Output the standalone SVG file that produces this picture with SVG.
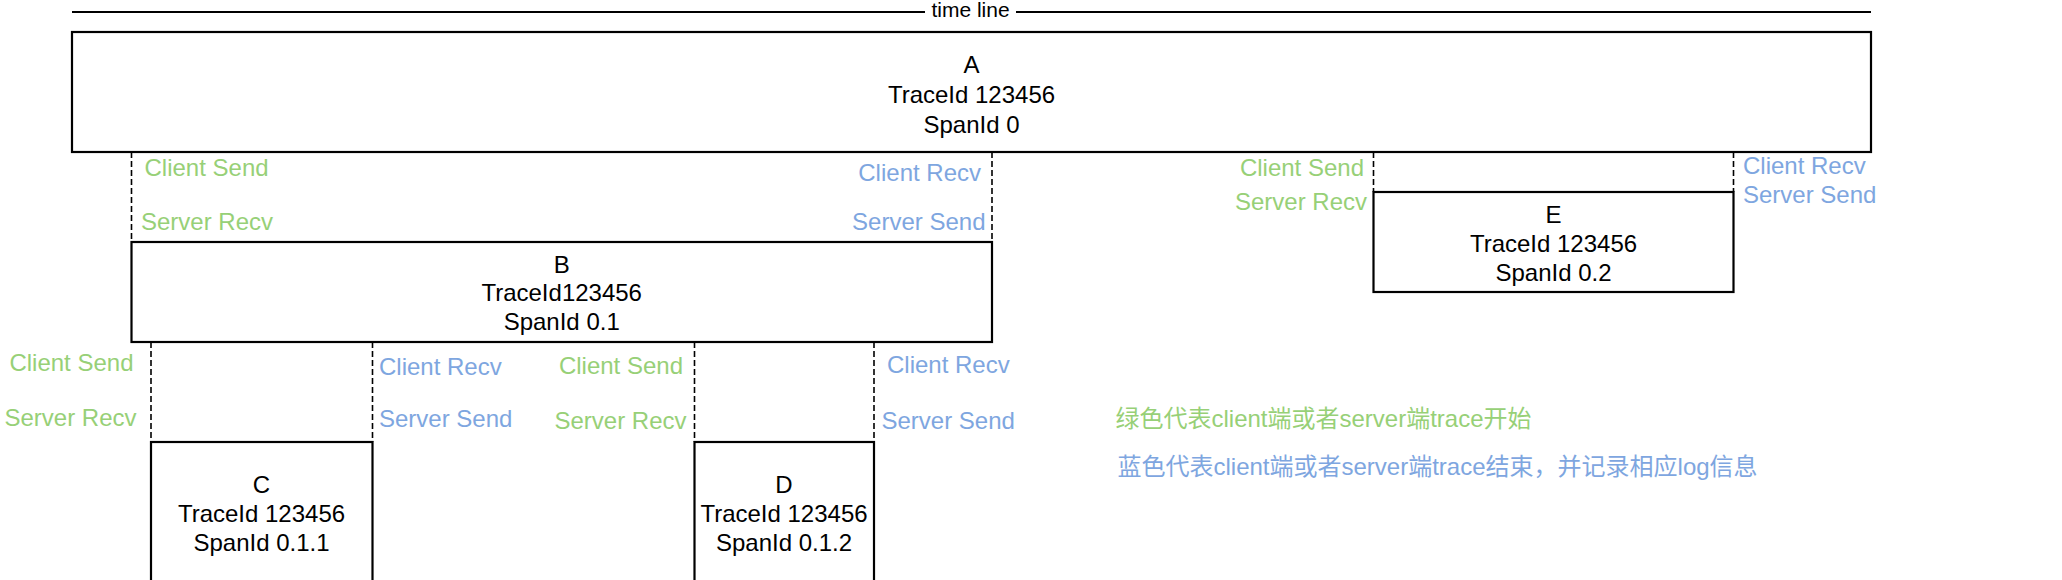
<svg xmlns="http://www.w3.org/2000/svg" width="2062" height="580" viewBox="0 0 2062 580">
<style>
.box{fill:#fff;stroke:#000;stroke-width:2.2}
.tl{stroke:#000;stroke-width:2.2;fill:none}
.dash{stroke:#000;stroke-width:1.6;stroke-dasharray:6 3;fill:none}
text{font-family:"Liberation Sans","Noto Sans CJK SC",sans-serif;font-size:24px}
.n{fill:#000;text-anchor:middle}
.g{fill:#97D077}
.b{fill:#7EA6E0}
.e{text-anchor:end}
</style>
<rect width="2062" height="580" fill="#fff"/>
<g id="timeline">
<line class="tl" x1="72" y1="12" x2="925" y2="12"/>
<line class="tl" x1="1016" y1="12" x2="1871" y2="12"/>
<text x="970.5" y="17" style="font-size:21px" text-anchor="middle" fill="#000">time line</text>
</g>
<g id="connectors">
<line class="dash" x1="131.5" y1="152" x2="131.5" y2="242"/>
<line class="dash" x1="992" y1="152" x2="992" y2="242"/>
<line class="dash" x1="1373.5" y1="152" x2="1373.5" y2="192"/>
<line class="dash" x1="1733.5" y1="152" x2="1733.5" y2="192"/>
<line class="dash" x1="151" y1="342" x2="151" y2="442"/>
<line class="dash" x1="372.5" y1="342" x2="372.5" y2="442"/>
<line class="dash" x1="694.5" y1="342" x2="694.5" y2="442"/>
<line class="dash" x1="874" y1="342" x2="874" y2="442"/>
</g>
<g id="nodeA">
<rect class="box" x="72" y="32" width="1799" height="120"/>
<text class="n" x="971.5" y="73">A</text>
<text class="n" x="971.5" y="102.5">TraceId 123456</text>
<text class="n" x="971.5" y="132.5">SpanId 0</text>
</g>
<g id="nodeB">
<rect class="box" x="131.5" y="242" width="860.5" height="100"/>
<text class="n" x="561.7" y="272.5">B</text>
<text class="n" x="561.7" y="301">TraceId123456</text>
<text class="n" x="561.7" y="330">SpanId 0.1</text>
</g>
<g id="nodeE">
<rect class="box" x="1373.5" y="192" width="360" height="100"/>
<text class="n" x="1553.5" y="223">E</text>
<text class="n" x="1553.5" y="252">TraceId 123456</text>
<text class="n" x="1553.5" y="281">SpanId 0.2</text>
</g>
<g id="nodeC">
<rect class="box" x="151" y="442" width="221.5" height="160"/>
<text class="n" x="261.5" y="493">C</text>
<text class="n" x="261.5" y="522">TraceId 123456</text>
<text class="n" x="261.5" y="551">SpanId 0.1.1</text>
</g>
<g id="nodeD">
<rect class="box" x="694.5" y="442" width="179.5" height="160"/>
<text class="n" x="784" y="493">D</text>
<text class="n" x="784" y="522">TraceId 123456</text>
<text class="n" x="784" y="551">SpanId 0.1.2</text>
</g>
<g id="labels">
<text class="g" x="144.5" y="176">Client Send</text>
<text class="g" x="141" y="229.5">Server Recv</text>
<text class="b e" x="981" y="181">Client Recv</text>
<text class="b e" x="985.5" y="230">Server Send</text>
<text class="g e" x="1364" y="176">Client Send</text>
<text class="g e" x="1367" y="209.5">Server Recv</text>
<text class="b" x="1743" y="173.5">Client Recv</text>
<text class="b" x="1743" y="202.5">Server Send</text>
<text class="g e" x="133.5" y="371">Client Send</text>
<text class="g e" x="136.5" y="426">Server Recv</text>
<text class="b" x="379" y="375">Client Recv</text>
<text class="b" x="379" y="427">Server Send</text>
<text class="g e" x="683" y="374">Client Send</text>
<text class="g e" x="686.5" y="428.5">Server Recv</text>
<text class="b" x="887" y="373">Client Recv</text>
<text class="b" x="881.5" y="429">Server Send</text>
<text class="g" x="1115.5" y="427">绿色代表client端或者server端trace开始</text>
<text class="b" x="1117.5" y="475">蓝色代表client端或者server端trace结束，并记录相应log信息</text>
</g>
</svg>
